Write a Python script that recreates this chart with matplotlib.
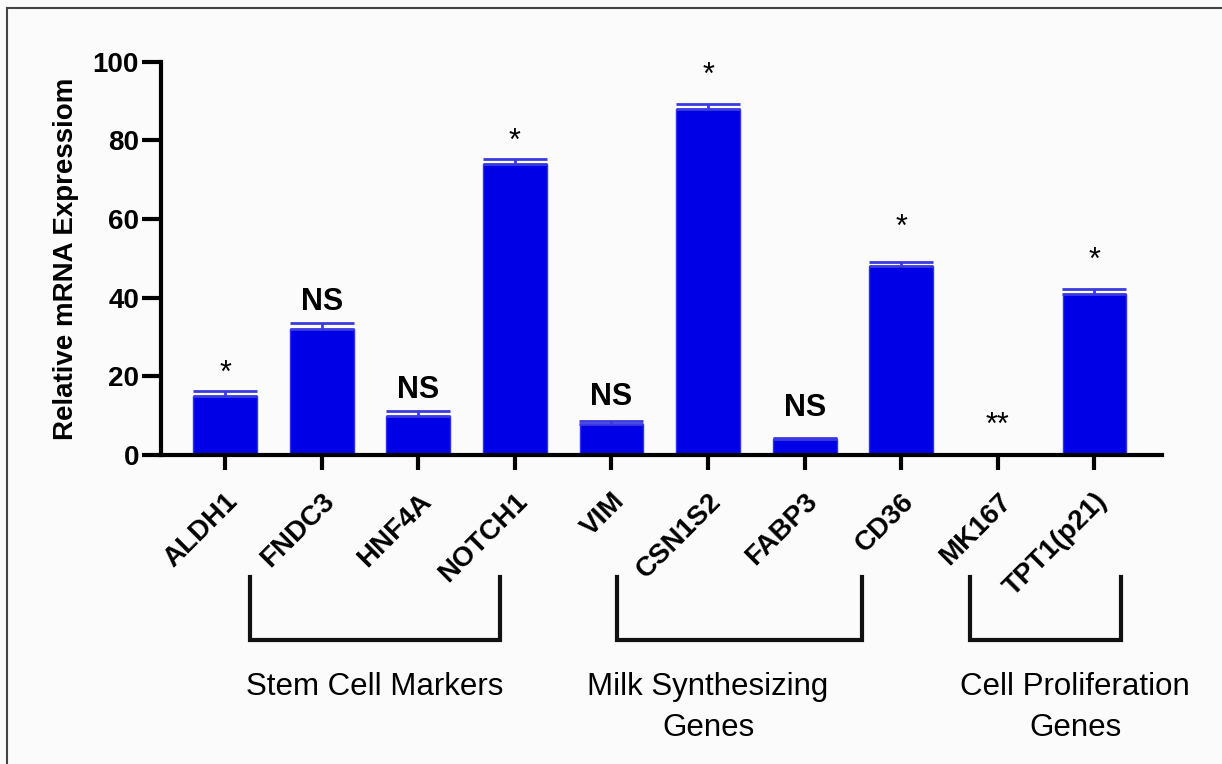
import matplotlib.pyplot as plt
import numpy as np
from matplotlib.lines import Line2D

plt.rcParams["font.family"] = ["Liberation Sans", "DejaVu Sans"]

# gene names and measured expression (mean, upper error)
genes = ["ALDH1", "FNDC3", "HNF4A", "NOTCH1", "VIM", "CSN1S2", "FABP3", "CD36", "MK167", "TPT1(p21)"]
expression = [15, 32, 10, 74, 8, 88, 4, 48, 0, 41]
errors = [1.3, 1.5, 1.2, 1.2, 0.7, 1.2, 0.3, 1.1, 0, 1.1]
signif = ["*", "NS", "NS", "*", "NS", "*", "NS", "*", "**", "*"]
signif_at = [22, 39, 16.5, 81, 14.8, 97.7, 12, 59, 8.7, 50.6]  # height of mark centres

# gene groups
group_names = ["Stem Cell Markers", "Milk Synthesizing\nGenes", "Cell Proliferation\nGenes"]
group_left = [0.26, 4.06, 7.71]
group_right = [2.85, 6.59, 9.27]
group_text_x = [1.55, 5.0, 8.8]

bg = "#fbfbfb"
blue = "#0000e6"
fig = plt.figure(figsize=(12.22, 7.64), dpi=100, facecolor=bg)
ax = fig.add_axes([0.132, 0.4045, 0.819, 0.5145], facecolor=bg)

x = np.arange(len(genes))
err = np.array(errors)
vals = np.array(expression)
ax.bar(x, vals, width=0.66, color=blue, edgecolor="#3030f0", linewidth=1, zorder=2)
has_err = err > 0
ax.errorbar(x[has_err], vals[has_err], yerr=[np.zeros(has_err.sum()), err[has_err]],
            fmt="none", ecolor="#3a3ae0", elinewidth=2, capsize=23, capthick=2, zorder=3)

for i, s in enumerate(signif):
    if s == "NS":
        ax.text(i, signif_at[i], s, ha="center", va="center", fontsize=22, fontweight="bold")
    else:
        # asterisks sit high in their box, so shift the text down a bit
        ax.text(i, signif_at[i] - 1.3, s, ha="center", va="center", fontsize=22)

ax.set_xlim(-0.66, 9.7)
ax.set_ylim(0, 100)
ax.set_yticks([0, 20, 40, 60, 80, 100])
ax.set_xticks(x)
ax.set_xticklabels(genes, rotation=45, ha="right", va="top", rotation_mode="anchor",
                   fontsize=20, fontweight="bold")
for lab in ax.get_yticklabels():
    lab.set_fontweight("bold")
ax.tick_params(axis="y", labelsize=20, width=3, length=14, pad=2)
ax.tick_params(axis="x", width=3, length=11, pad=13)
ax.spines["top"].set_visible(False)
ax.spines["right"].set_visible(False)
ax.spines["left"].set_linewidth(3)
ax.spines["bottom"].set_linewidth(3)
ax.set_ylabel("Relative mRNA Expressiom", fontsize=20, fontweight="bold", labelpad=10)

# group brackets under the tick labels
trans = ax.get_xaxis_transform()
for name, x0, x1, tx in zip(group_names, group_left, group_right, group_text_x):
    ax.plot([x0, x0, x1, x1], [-0.31, -0.471, -0.471, -0.31], color="#111111",
            lw=3, transform=trans, clip_on=False, solid_joinstyle="miter")
    ax.text(tx, -0.553, name, ha="center", va="top", fontsize=22.5,
            linespacing=1.45, transform=trans)

# frame lines at top and left of the figure
fig.add_artist(Line2D([0.006, 1], [0.99, 0.99], color="#444444", lw=1.5, transform=fig.transFigure))
fig.add_artist(Line2D([0.006, 0.006], [0, 0.99], color="#444444", lw=1.5, transform=fig.transFigure))

fig.savefig("out.png", dpi=100, facecolor=bg)
